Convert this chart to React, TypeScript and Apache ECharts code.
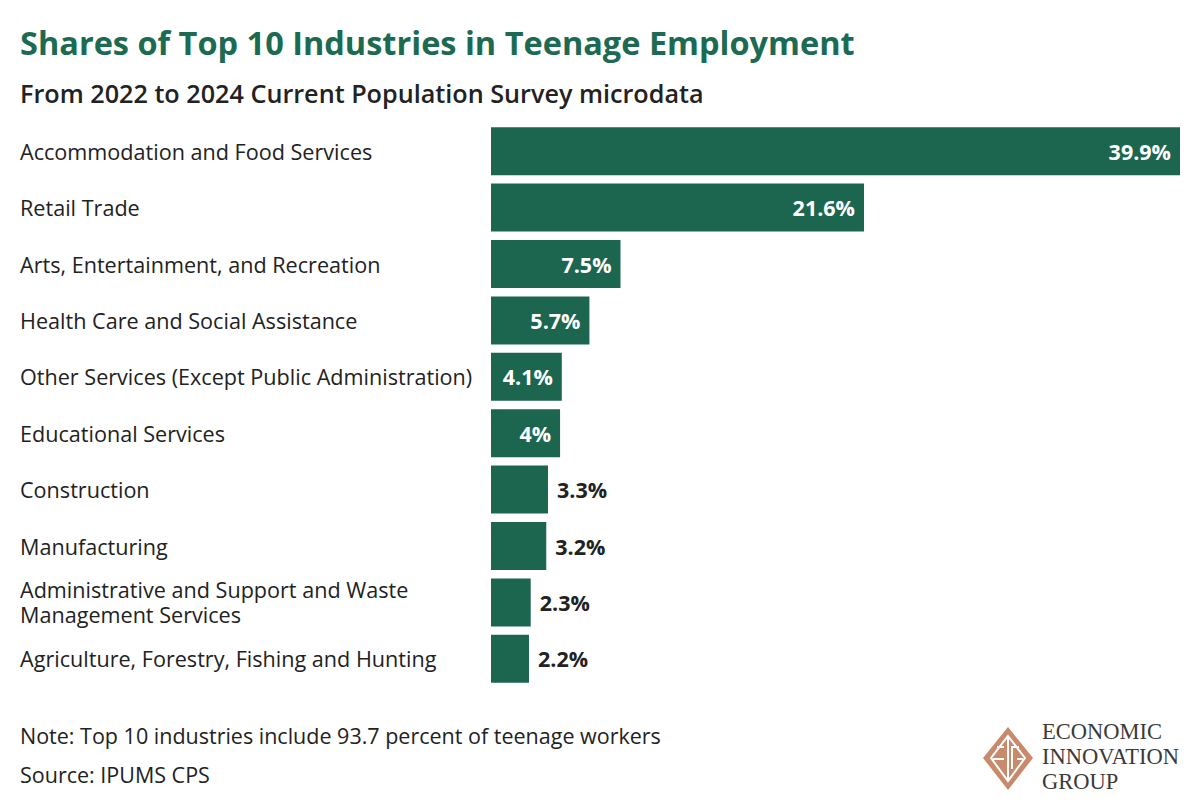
import React, { useEffect, useRef } from "react";
import * as echarts from "echarts";

const categories = [
  "Accommodation and Food Services",
  "Retail Trade",
  "Arts, Entertainment, and Recreation",
  "Health Care and Social Assistance",
  "Other Services (Except Public Administration)",
  "Educational Services",
  "Construction",
  "Manufacturing",
  "Administrative and Support and Waste\nManagement Services",
  "Agriculture, Forestry, Fishing and Hunting",
];
const shares = [39.9, 21.6, 7.5, 5.7, 4.1, 4, 3.3, 3.2, 2.3, 2.2];

const titleText = "Shares of Top 10 Industries in Teenage Employment";
const subtitleText = "From 2022 to 2024 Current Population Survey microdata";
const noteText = "Note: Top 10 industries include 93.7 percent of teenage workers";
const sourceText = "Source: IPUMS CPS";
const logoLines = ["ECONOMIC", "INNOVATION", "GROUP"];

const GREEN = "#1c6650";
const TITLE_GREEN = "#1d6a52";
const DARK = "#222222";
const FONT = "'Open Sans', 'Noto Sans', sans-serif";
const LOGO = "#c98a6b";

export default function App() {
  const ref = useRef<HTMLDivElement>(null);
  useEffect(() => {
    document.body.style.margin = "0";
    if (!ref.current) return;
    const chart = echarts.init(ref.current, null, { renderer: "svg" });
    const data = shares.map((v) => ({
      value: v,
      label:
        v >= 4
          ? { position: "insideRight", color: "#ffffff", distance: 9 }
          : { position: "right", color: DARK, distance: 9 },
    }));
    const cx = 1008;
    const cy = 758;
    chart.setOption({
      animation: false,
      backgroundColor: "#ffffff",
      grid: { left: 491, top: 123, width: 689, height: 564, containLabel: false },
      xAxis: { type: "value", min: 0, max: 39.9, show: false },
      yAxis: {
        type: "category",
        data: categories,
        inverse: true,
        axisLine: { show: false },
        axisTick: { show: false },
        splitLine: { show: false },
        axisLabel: {
          align: "left",
          margin: 471,
          fontSize: 21.6,
          lineHeight: 25,
          color: DARK,
          fontFamily: FONT,
        },
      },
      series: [
        {
          type: "bar",
          data,
          barWidth: 48,
          itemStyle: { color: GREEN },
          label: {
            show: true,
            formatter: (p: any) => p.value + "%",
            fontSize: 21.5,
            fontWeight: "bold",
            fontFamily: FONT,
          },
        },
      ],
      graphic: [
        {
          type: "text",
          left: 20,
          top: 26,
          style: { text: titleText, fill: TITLE_GREEN, font: `bold 32.5px ${FONT}` },
        },
        {
          type: "text",
          left: 20,
          top: 80,
          style: { text: subtitleText, fill: DARK, font: `600 25.2px ${FONT}` },
        },
        {
          type: "text",
          left: 20,
          top: 724,
          style: { text: noteText, fill: DARK, font: `21.5px ${FONT}` },
        },
        {
          type: "text",
          left: 20,
          top: 763,
          style: { text: sourceText, fill: DARK, font: `21.5px ${FONT}` },
        },
        {
          type: "polygon",
          shape: { points: [[cx, 727], [cx + 25, cy], [cx, 790], [cx - 25, cy]] },
          style: { fill: LOGO },
        },
        {
          type: "polygon",
          shape: { points: [[cx, 736], [cx + 17, cy], [cx, 781], [cx - 17, cy]] },
          style: { fill: "none", stroke: "#ffffff", lineWidth: 2 },
        },
        {
          type: "line",
          shape: { x1: cx, y1: 736, x2: cx, y2: 781 },
          style: { stroke: "#ffffff", lineWidth: 2 },
        },
        {
          type: "polyline",
          shape: { points: [[cx - 4, 747], [cx - 11, 747]] },
          style: { stroke: "#ffffff", lineWidth: 2, fill: "none" },
        },
        {
          type: "polyline",
          shape: { points: [[cx - 15, 759], [cx - 4, 759]] },
          style: { stroke: "#ffffff", lineWidth: 2, fill: "none" },
        },
        {
          type: "polyline",
          shape: { points: [[cx + 11, 747], [cx + 4, 747], [cx + 4, 769]] },
          style: { stroke: "#ffffff", lineWidth: 2, fill: "none" },
        },
        {
          type: "polyline",
          shape: { points: [[cx + 9, 759], [cx + 15, 759]] },
          style: { stroke: "#ffffff", lineWidth: 2, fill: "none" },
        },
        ...logoLines.map((t, i) => ({
          type: "text",
          left: 1042,
          top: 720 + i * 25,
          style: { text: t, fill: "#3a3a3a", font: `22.5px 'Liberation Serif', 'DejaVu Serif', serif` },
        })),
      ],
    });
    return () => chart.dispose();
  }, []);
  return <div ref={ref} style={{ width: 1200, height: 808 }} />;
}
